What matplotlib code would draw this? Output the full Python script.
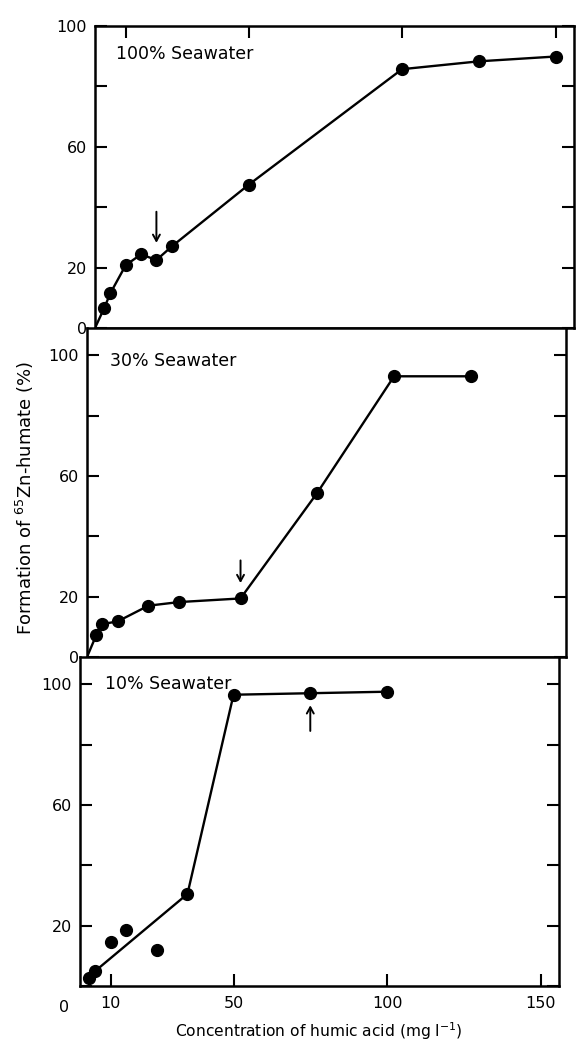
import matplotlib
matplotlib.use("Agg")
import matplotlib.pyplot as plt

plt.rcParams['font.family'] = ['DejaVu Sans']

# ---- data ----
top_x = [3, 5, 10, 15, 20, 25, 50, 100, 125, 150]
top_y = [6.6, 11.5, 20.8, 24.4, 22.5, 27.0, 47.4, 85.7, 88.3, 89.9]
top_line_x = [0, 3, 5, 10, 15, 20, 25, 50, 100, 125, 150]
top_line_y = [0, 6.6, 11.5, 20.8, 24.4, 22.5, 27.0, 47.4, 85.7, 88.3, 89.9]

mid_x = [3, 5, 10, 20, 30, 50, 75, 100, 125]
mid_y = [7.2, 10.9, 11.8, 17.0, 18.2, 19.4, 54.4, 93.0, 93.0]
mid_line_x = [0, 3, 5, 10, 20, 30, 50, 75, 100, 125]
mid_line_y = [0, 7.2, 10.9, 11.8, 17.0, 18.2, 19.4, 54.4, 93.0, 93.0]

bot_x = [3, 5, 10, 15, 25, 35, 50, 75, 100]
bot_y = [2.8, 5.0, 14.7, 18.7, 12.0, 30.5, 96.5, 97.0, 97.5]
bot_line_x = [3, 5, 35, 50, 75, 100]
bot_line_y = [2.8, 5.0, 30.5, 96.5, 97.0, 97.5]

panel_labels = ["100% Seawater", "30% Seawater", "10% Seawater"]
label_x = [6.7, 7.5, 8.1]
label_y = [90.8, 98.0, 99.9]

arrow_x = [20, 50, 75]
arrow_tail = [38.5, 32.0, 84.5]
arrow_tip = [28.2, 24.5, 93.0]

ytick_vals = [0, 20, 40, 60, 80, 100]
ytick_labels = ["0", "20", "", "60", "", "100"]
xtick_vals = [10, 50, 100, 150]
xtick_labels = ["10", "50", "100", "150"]
ylims = [100, 109, 109]

W, H = 582, 1046
fig = plt.figure(figsize=(W / 100, H / 100), dpi=100)
fig.patch.set_facecolor('white')

# panel boxes in pixels: (left, top, bottom)
boxes = [(95, 26, 328), (87, 328, 657), (80, 657, 986)]
pw = 479

axes = []
for (l, t, b) in boxes:
    ax = fig.add_axes([l / W, 1 - b / H, pw / W, (b - t) / H])
    axes.append(ax)

series = [
    (top_x, top_y, top_line_x, top_line_y),
    (mid_x, mid_y, mid_line_x, mid_line_y),
    (bot_x, bot_y, bot_line_x, bot_line_y),
]

for i, ax in enumerate(axes):
    px, py, lx, ly = series[i]
    ax.plot(lx, ly, color='black', lw=1.7, zorder=2, solid_capstyle='round')
    ax.plot(px, py, 'o', color='black', ms=8.5, zorder=3)
    ax.set_xlim(0, 156)
    ax.set_ylim(0, ylims[i])
    for s in ax.spines.values():
        s.set_linewidth(1.8)
    labs = list(ytick_labels)
    if i == 2:
        labs[0] = ""
    ax.set_yticks(ytick_vals, labels=labs)
    ax.tick_params(axis='y', direction='in', length=8.5, width=1.5,
                   left=True, right=True, labelsize=11.5, pad=6)
    ax.text(label_x[i], label_y[i], panel_labels[i], fontsize=12.5,
            ha='left', va='center', zorder=4)
    ax.annotate('', xy=(arrow_x[i], arrow_tip[i]), xytext=(arrow_x[i], arrow_tail[i]),
                arrowprops=dict(arrowstyle='->,head_length=0.45,head_width=0.25',
                                color='black', lw=1.4, shrinkA=0, shrinkB=0))

# top panel: ticks along top edge
axes[0].set_xticks(xtick_vals)
axes[0].tick_params(axis='x', direction='in', length=8.5, width=1.5,
                    top=True, bottom=False, labelbottom=False, labeltop=False)
# middle panel: no x ticks
axes[1].set_xticks([])
# bottom panel: labelled x ticks
axes[2].set_xticks(xtick_vals, labels=xtick_labels)
axes[2].tick_params(axis='x', direction='in', length=8.5, width=1.5,
                    top=False, bottom=True, labelsize=11.5, pad=7)
axes[2].annotate("0", xy=(0, 0), xycoords='data', xytext=(-16, -21),
                 textcoords='offset pixels', ha='center', va='center', fontsize=11.5)

fig.text(319 / W, 1 - 1031 / H, "Concentration of humic acid (mg l$^{-1}$)",
         ha='center', va='center', fontsize=11.2)
fig.text(25 / W, 1 - 498 / H, "Formation of $^{65}$Zn-humate (%)",
         ha='center', va='center', rotation=90, fontsize=13)

fig.savefig("out.png", dpi=100, facecolor='white')
